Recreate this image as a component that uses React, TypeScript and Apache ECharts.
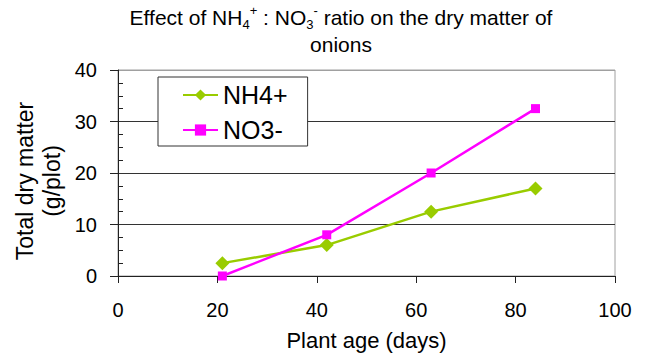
import React, { useEffect, useRef } from "react";
import * as echarts from "echarts";

const days = [21, 42, 63, 84];
const nh4 = [2.5, 6, 12.5, 17];
const no3 = [0, 8, 20, 32.5];
const seriesNames = ["NH4+", "NO3-"];
const xTitle = "Plant age (days)";
const yTitleLines = ["Total dry matter", "(g/plot)"];

const FONT = "'Liberation Sans', Arial, sans-serif";

export default function App() {
  const ref = useRef<HTMLDivElement>(null);
  useEffect(() => {
    document.body.style.margin = "0";
    const chart = echarts.init(ref.current!, null, { renderer: "svg" });
    const axisColor = "#222";
    chart.setOption({
      animation: false,
      backgroundColor: "#fff",
      textStyle: { fontFamily: FONT, color: "#000" },
      grid: {
        left: 118,
        right: 30,
        top: 70,
        bottom: 78,
        show: true,
        borderColor: "#a0a0a0",
        borderWidth: 1,
        backgroundColor: "transparent",
      },
      legend: {
        left: 158,
        top: 77,
        orient: "vertical",
        padding: [4, 20, 2, 24],
        itemGap: 7,
        itemWidth: 35,
        itemHeight: 14,
        backgroundColor: "#fff",
        borderColor: "#333",
        borderWidth: 1,
        borderRadius: 0,
        textStyle: { fontSize: 25, lineHeight: 28, color: "#000", fontFamily: FONT },
        data: seriesNames,
      },
      xAxis: {
        type: "value",
        min: 0,
        max: 100,
        interval: 20,
        name: xTitle,
        nameLocation: "middle",
        nameGap: 53,
        nameTextStyle: { fontSize: 22, color: "#000", fontFamily: FONT },
        axisLine: { show: true, onZero: false, lineStyle: { color: axisColor, width: 1 } },
        axisTick: { show: true, inside: false, length: 7, lineStyle: { color: axisColor } },
        axisLabel: { fontSize: 20, color: "#000", margin: 24, fontFamily: FONT },
        splitLine: { show: false },
      },
      yAxis: [
        {
          type: "value",
          min: 0,
          max: 40,
          interval: 10,
          axisLine: { show: true, onZero: false, lineStyle: { color: axisColor, width: 1 } },
          axisTick: { show: false, inside: true, length: 5, lineStyle: { color: axisColor } },
          minorTick: { show: true, splitNumber: 4, length: 5, lineStyle: { color: axisColor, width: 1 } },
          axisLabel: { fontSize: 20, color: "#000", margin: 21, fontFamily: FONT },
          splitLine: {
            show: true,
            lineStyle: { color: ["#333", "#333", "#333", "#333", "#a0a0a0"], width: 1 },
          },
        },
        {
          type: "value",
          position: "left",
          min: 0,
          max: 40,
          interval: 10,
          axisLine: { show: false, onZero: false },
          axisTick: { show: true, inside: false, length: 8, lineStyle: { color: axisColor, width: 1 } },
          axisLabel: { show: false },
          splitLine: { show: false },
        },
      ],
      graphic: [
        {
          type: "text",
          x: 341,
          y: 4,
          style: {
            text:
              "{a|Effect of NH}{sub|4}{sup|+}{a| : NO}{sub|3}{sup|-}{a| ratio on the dry matter of}\n{a|onions}",
            align: "center",
            verticalAlign: "top",
            fill: "#000",
            rich: {
              a: { fontSize: 21, lineHeight: 27, fontFamily: FONT, fill: "#000" },
              sub: { fontSize: 13, lineHeight: 16, verticalAlign: "bottom", fontFamily: FONT, fill: "#000" },
              sup: { fontSize: 13, lineHeight: 6, verticalAlign: "top", fontFamily: FONT, fill: "#000" },
            },
          },
        },
        {
          type: "text",
          x: 38,
          y: 181,
          rotation: Math.PI / 2,
          style: {
            text: yTitleLines.join("\n"),
            align: "center",
            verticalAlign: "middle",
            fontSize: 23,
            lineHeight: 27,
            fontFamily: FONT,
            fill: "#000",
          },
        },
      ],
      series: [
        {
          name: seriesNames[0],
          type: "line",
          data: days.map((d, i) => [d, nh4[i]]),
          symbol: "diamond",
          symbolSize: 14,
          itemStyle: { color: "#99cc00" },
          lineStyle: { color: "#99cc00", width: 2.5 },
          z: 3,
        },
        {
          name: seriesNames[1],
          type: "line",
          data: days.map((d, i) => [d, no3[i]]),
          symbol: "rect",
          symbolSize: 9,
          itemStyle: { color: "#ff00ff" },
          lineStyle: { color: "#ff00ff", width: 2.5 },
          z: 4,
        },
        {
          name: "tick-helper",
          type: "line",
          yAxisIndex: 1,
          data: days.map((d, i) => [d, no3[i]]),
          showSymbol: false,
          symbol: "none",
          silent: true,
          lineStyle: { opacity: 0, width: 0 },
          itemStyle: { opacity: 0 },
          z: 0,
        },
      ],
    });
    return () => chart.dispose();
  }, []);
  return <div ref={ref} style={{ width: 645, height: 356 }} />;
}
